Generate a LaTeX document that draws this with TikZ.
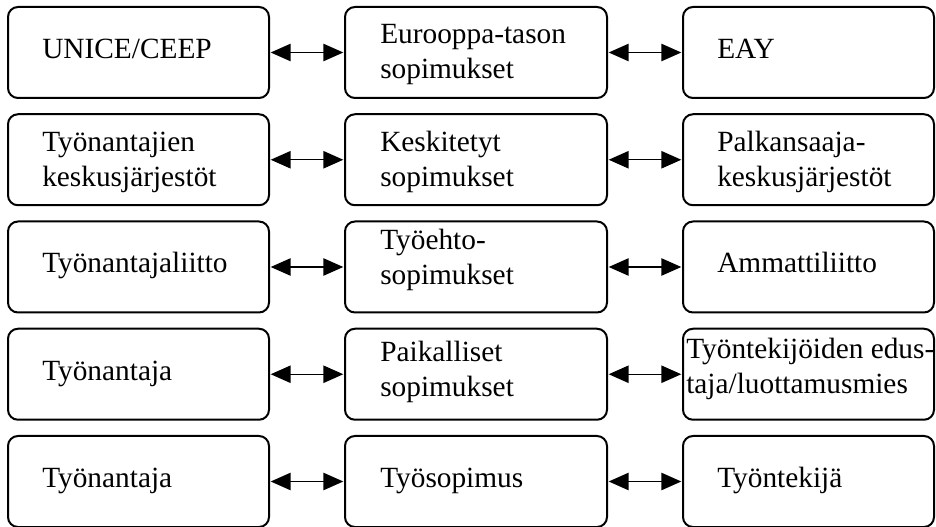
\documentclass[tikz,border=0pt]{standalone}
\usepackage{fontspec}
\setmainfont{Liberation Serif}
\usetikzlibrary{arrows.meta}
\begin{document}
\begin{tikzpicture}[x=0.75pt,y=-0.75pt,
  box/.style={draw=black,line width=1.5pt,rounded corners=7.5pt,rectangle,inner sep=0pt},
  lbl/.style={anchor=base west,inner sep=0pt,align=left,font=\fontsize{22}{26.25}\selectfont},
  link/.style={line width=1.1pt,{Triangle[length=15pt,width=13pt]}-{Triangle[length=15pt,width=13pt]},shorten <=0.5pt,shorten >=0.5pt}]
\useasboundingbox (0,0) rectangle (936,527);
% boxes: col1 8-269, col2 345-607, col3 683-934 ; rows top 7 + 107.25 k, height 91
\foreach \r/\c in {1/52.5,2/159.75,3/267,4/374.25,5/481.5}{
  \node[box,minimum width=195.75pt,minimum height=68.25pt] (a\r) at (138.5,\c) {};
  \node[box,minimum width=196.5pt,minimum height=68.25pt] (b\r) at (476,\c) {};
  \node[box,minimum width=188.25pt,minimum height=68.25pt] (c\r) at (808.5,\c) {};
  \draw[link] (a\r.east) -- (b\r.west);
  \draw[link] (b\r.east) -- (c\r.west);
}
% row 1
\node[lbl] (ta1) at (42,58.5) {UNICE/CEEP};
\node[lbl] (tb1) at (380,79) {Eurooppa-tason\\sopimukset};
\node[lbl] (tc1) at (717,58.5) {EAY};
% row 2
\node[lbl] (ta2) at (42,187) {Työnantajien\\keskusjärjestöt};
\node[lbl] (tb2) at (380,187) {Keskitetyt\\sopimukset};
\node[lbl] (tc2) at (717,187) {Palkansaaja-\\keskusjärjestöt};
% row 3
\node[lbl] (ta3) at (42,273) {Työnantajaliitto};
\node[lbl] (tb3) at (380,285) {Työehto-\\sopimukset};
\node[lbl] (tc3) at (717,273) {Ammattiliitto};
% row 4
\node[lbl] (ta4) at (42,380.5) {Työnantaja};
\node[lbl] (tb4) at (380,397) {Paikalliset\\sopimukset};
\node[lbl] (tc4) at (686,394) {Työntekijöiden edus-\\taja/luottamusmies};
% row 5
\node[lbl] (ta5) at (42,488) {Työnantaja};
\node[lbl] (tb5) at (380,488) {Työsopimus};
\node[lbl] (tc5) at (717,488) {Työntekijä};
\end{tikzpicture}
\end{document}
